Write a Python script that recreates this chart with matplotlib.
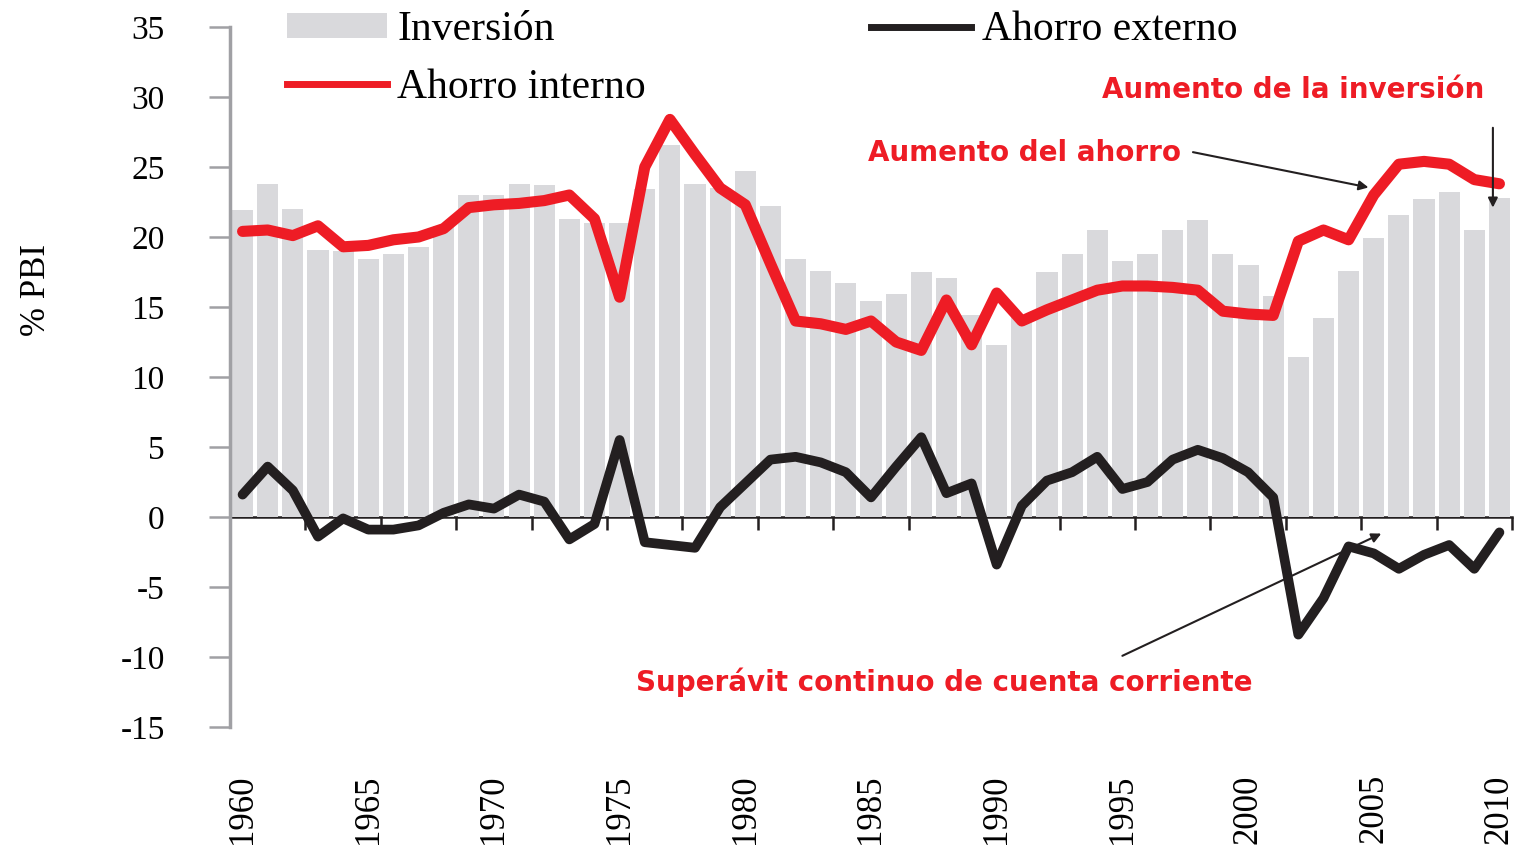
import numpy as np
import matplotlib
matplotlib.use("Agg")
import matplotlib.pyplot as plt
from matplotlib.lines import Line2D
from matplotlib.patches import Patch

years = np.arange(1960, 2011)

# Inversion (% PBI), bars
inversion = [21.9, 23.8, 22.0, 19.1, 19.0, 18.4, 18.8, 19.3, 20.8, 23.0,
             23.0, 23.8, 23.7, 21.3, 21.0, 21.0, 23.4, 26.6, 23.8, 23.5,
             24.7, 22.2, 18.4, 17.6, 16.7, 15.4, 15.9, 17.5, 17.1, 14.4,
             12.3, 14.3, 17.5, 18.8, 20.5, 18.3, 18.8, 20.5, 21.2, 18.8,
             18.0, 15.8, 11.4, 14.2, 17.6, 19.9, 21.6, 22.7, 23.2, 20.5,
             22.8]

# Ahorro interno (red line)
ahorro_interno = [20.4, 20.5, 20.1, 20.8, 19.3, 19.4, 19.8, 20.0, 20.6, 22.1,
                  22.3, 22.4, 22.6, 23.0, 21.3, 15.7, 25.0, 28.4, 25.9, 23.5,
                  22.3, 18.1, 14.0, 13.8, 13.4, 14.0, 12.5, 11.9, 15.5, 12.3,
                  16.0, 14.0, 14.8, 15.5, 16.2, 16.5, 16.5, 16.4, 16.2, 14.7,
                  14.5, 14.4, 19.7, 20.5, 19.8, 23.0, 25.2, 25.4, 25.2, 24.1,
                  23.8]

# Ahorro externo (black line)
ahorro_externo = [1.6, 3.6, 1.9, -1.4, -0.1, -0.9, -0.9, -0.6, 0.3, 0.9,
                  0.6, 1.6, 1.1, -1.6, -0.5, 5.5, -1.8, -2.0, -2.2, 0.7,
                  2.4, 4.1, 4.3, 3.9, 3.2, 1.4, 3.6, 5.7, 1.7, 2.4,
                  -3.4, 0.8, 2.6, 3.2, 4.3, 2.0, 2.5, 4.1, 4.8, 4.2,
                  3.2, 1.4, -8.4, -5.8, -2.1, -2.6, -3.7, -2.7, -2.0, -3.7,
                  -1.1]

label_years = np.arange(1960, 2011, 5)
yticks = np.arange(-15, 36, 5)

serif = ["Liberation Serif", "DejaVu Serif"]
red = "#ee1c25"
black = "#231f20"
gray_bar = "#d9d9dc"

fig = plt.figure(figsize=(15.29, 8.48), dpi=100)
ax = fig.add_axes([230/1529, 1-727/848, (1512-230)/1529, 700/848])

ax.bar(years, inversion, width=0.84, color=gray_bar, zorder=1)
ax.plot(years, ahorro_interno, color=red, lw=8, solid_joinstyle="round",
        solid_capstyle="round", zorder=3)
ax.plot(years, ahorro_externo, color=black, lw=7, solid_joinstyle="round",
        solid_capstyle="round", zorder=3)

ax.set_xlim(1959.5, 2010.5)
ax.set_ylim(-15, 35)

for s in ["top", "right", "bottom"]:
    ax.spines[s].set_visible(False)
ax.spines["left"].set_color("#a0a0a4")
ax.spines["left"].set_linewidth(2.5)

ax.set_yticks(yticks)
ax.set_yticklabels([str(v) for v in yticks], family=serif, fontsize=24)
ax.tick_params(axis="y", direction="out", length=15, width=1.8,
               color="#a0a0a4", pad=32)

ax.set_xticks(label_years)
ax.set_xticklabels([str(v) for v in label_years], family=serif, fontsize=25,
                   rotation=90)
ax.tick_params(axis="x", length=0, pad=34)

# zero line with tick marks every 3 years
sec = ax.secondary_xaxis(0.3)
sec.set_xticks(np.arange(1959.5, 2011, 3))
sec.set_xticklabels([])
sec.tick_params(direction="out", length=9, width=1.8, color=black)
sec.spines["bottom"].set_color(black)
sec.spines["bottom"].set_linewidth(1.8)

ax.set_ylabel("% PBI", family=serif, fontsize=25)
ax.yaxis.set_label_coords(-0.138, 0.625)

handles = [Patch(facecolor=gray_bar, edgecolor="none"),
           Line2D([], [], color=red, lw=5),
           Line2D([], [], color=black, lw=5)]
labels = ["Inversión", "Ahorro interno", "Ahorro externo"]
fig.legend(handles, labels, ncol=2, loc="upper left",
           bbox_to_anchor=(287/1529, 1 - 11/848), frameon=False,
           borderpad=0, borderaxespad=0,
           prop={"family": serif, "size": 30}, handlelength=2.4,
           handleheight=0.55, columnspacing=5.4, labelspacing=0.45,
           handletextpad=0.25)

ann = dict(color=red, fontsize=20, fontweight="bold", family="DejaVu Sans",
           ha="center", va="center")
ax.text(2001.8, 30.5, "Aumento de la inversión", **ann)
ax.annotate("", xy=(2009.74, 21.9), xytext=(2009.74, 28.0),
            arrowprops=dict(arrowstyle="-|>", color=black, lw=1.5,
                            mutation_scale=14))
ax.text(1991.1, 26.0, "Aumento del ahorro", **ann)
ax.annotate("", xy=(2004.9, 23.5), xytext=(1997.7, 26.1),
            arrowprops=dict(arrowstyle="-|>", color=black, lw=1.5,
                            mutation_scale=14))
ax.text(1987.9, -11.8, "Superávit continuo de cuenta corriente", **ann)
ax.annotate("", xy=(2005.4, -1.1), xytext=(1994.9, -10.0),
            arrowprops=dict(arrowstyle="-|>", color=black, lw=1.5,
                            mutation_scale=14))

fig.savefig("out.png", dpi=100)
